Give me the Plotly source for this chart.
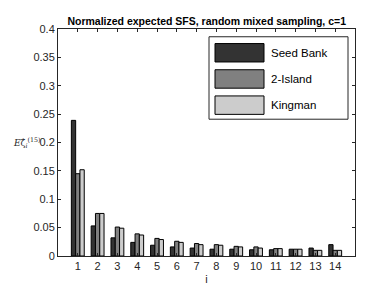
import plotly.graph_objects as go

i_vals = list(range(1, 15))
series_names = ["Seed Bank", "2-Island", "Kingman"]
seed_bank = [0.239, 0.053, 0.032, 0.024, 0.019, 0.016, 0.014, 0.012, 0.012, 0.011, 0.011, 0.012, 0.014, 0.020]
two_island = [0.145, 0.075, 0.051, 0.039, 0.031, 0.026, 0.022, 0.020, 0.017, 0.016, 0.013, 0.012, 0.010, 0.010]
kingman = [0.152, 0.075, 0.049, 0.037, 0.029, 0.024, 0.020, 0.019, 0.016, 0.014, 0.013, 0.012, 0.010, 0.010]
y_ticks = [0, 0.05, 0.1, 0.15, 0.2, 0.25, 0.3, 0.35, 0.4]
y_tick_text = ["0", "0.05", "0.1", "0.15", "0.2", "0.25", "0.3", "0.35", "0.4"]
colors = ["#333333", "#808080", "#cccccc"]

fig = go.Figure()
for name, vals, c in zip(series_names, [seed_bank, two_island, kingman], colors):
    fig.add_trace(go.Bar(x=i_vals, y=vals, name=name, marker=dict(color=c, line=dict(color="black", width=1)),
                         showlegend=False))

font = "Liberation Sans, Arial, Helvetica, sans-serif"
fig.update_layout(
    width=384, height=288,
    margin=dict(l=50, r=37, t=21, b=33),
    paper_bgcolor="white", plot_bgcolor="white",
    barmode="group", bargap=0.35, bargroupgap=0,
    font=dict(family=font, size=11, color="#262626"),
    title=dict(text="<b>Normalized expected SFS, random mixed sampling, c=1</b>",
               x=0.5175, xanchor="center", y=0.955, yanchor="middle",
               font=dict(size=10.5, color="black")),
)
fig.update_xaxes(range=[0, 15], tickvals=i_vals, ticktext=[str(v) for v in i_vals],
                 ticks="inside", ticklen=3, tickcolor="#262626",
                 showline=True, linecolor="#262626", linewidth=1, mirror="ticks",
                 showgrid=False, zeroline=False,
                 title=dict(text="i", font=dict(size=11), standoff=4))
fig.update_yaxes(range=[0, 0.4], tickvals=y_ticks, ticktext=y_tick_text,
                 ticks="inside", ticklen=3, tickcolor="#262626",
                 showline=True, linecolor="#262626", linewidth=1, mirror="ticks",
                 showgrid=False, zeroline=False)

px0, px1 = 50, 347
py0, py1 = 255, 21
def fx(p):
    return (p - px0) / (px1 - px0)
def fy(p):
    return (py0 - p) / (py0 - py1)

# y-axis label (horizontal, as in reference)
fig.add_annotation(xref="paper", yref="paper", x=fx(3), y=fy(138), xanchor="left", yanchor="middle",
                   text="<i>E</i>ζ&#770;<sub><i>i</i></sub><sup>(15)</sup>", showarrow=False,
                   font=dict(family="DejaVu Serif, serif", size=9, color="#262626"))

# manual legend with large swatches
fig.add_shape(type="rect", xref="paper", yref="paper", x0=fx(201), x1=fx(340), y0=fy(114), y1=fy(29),
              line=dict(color="#262626", width=1), fillcolor="white", layer="above")
sw_tops = [36, 63, 90]
for k, (name, c) in enumerate(zip(series_names, colors)):
    t = sw_tops[k]
    fig.add_shape(type="rect", xref="paper", yref="paper", x0=fx(207), x1=fx(256), y0=fy(t + 19), y1=fy(t),
                  line=dict(color="black", width=1), fillcolor=c, layer="above")
    fig.add_annotation(xref="paper", yref="paper", x=fx(261), y=fy(t + 9.5), xanchor="left", yanchor="middle",
                       text=name, showarrow=False, font=dict(size=11.5, color="black"))

fig.write_html("out.html")
